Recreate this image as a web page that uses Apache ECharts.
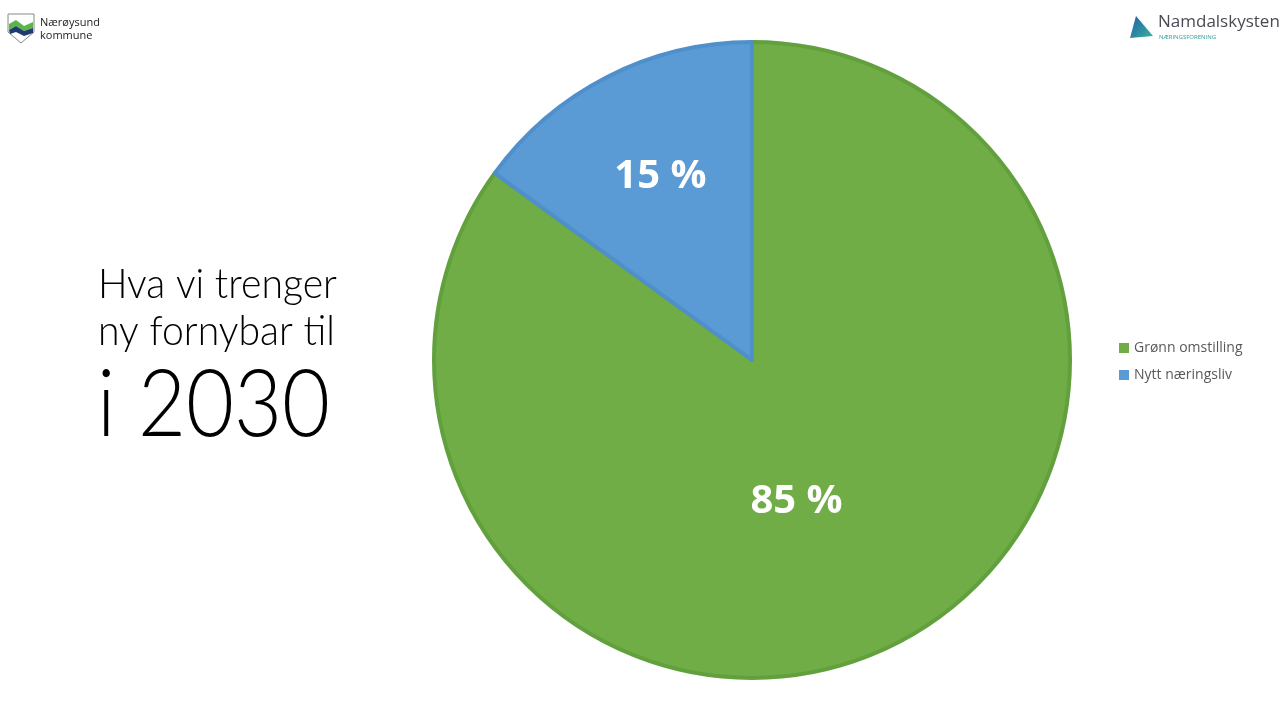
<!DOCTYPE html>
<html>
<head>
<meta charset="utf-8">
<script src="https://cdn.jsdelivr.net/npm/echarts@6/dist/echarts.min.js"></script>
<style>html,body{margin:0;padding:0;background:#fff;}#c{width:1280px;height:720px;}</style>
</head>
<body>
<div id="c"></div>
<script>
const categories = ['Grønn omstilling', 'Nytt næringsliv'];
const values = [85, 15];
const colors = ['#70AD47', '#5B9BD5'];
const borders = ['#62A03D', '#4E8FCC'];
const titleLines = ['Hva vi trenger', 'ny fornybar til'];
const titleYear = 'i 2030';

const chart = echarts.init(document.getElementById('c'));
const labelShift = [[-29, -3], [-18, -39]];
chart.setOption({
  animation: false,
  backgroundColor: '#ffffff',
  legend: {
    orient: 'vertical',
    left: 1114,
    top: 336,
    itemWidth: 10,
    itemHeight: 10,
    itemGap: 13,
    icon: 'rect',
    itemStyle: { borderWidth: 0 },
    textStyle: { color: '#595959', fontSize: 14, fontFamily: 'Open Sans' },
    data: categories
  },
  graphic: [
    { type: 'text', x: 98, y: 264, scaleX: 0.955, style: { text: titleLines[0], font: '300 41px Lato', fill: '#000' } },
    { type: 'text', x: 98, y: 311, scaleX: 0.955, style: { text: titleLines[1], font: '300 41px Lato', fill: '#000' } },
    { type: 'text', x: 97, y: 360, scaleX: 0.9, style: { text: titleYear, font: '300 92px Lato', fill: '#000' } },
    // top-left logo
    { type: 'polygon', shape: { points: [[8,14],[34,14],[34,32],[21,43],[8,32]] }, style: { fill: '#ffffff', stroke: '#888', lineWidth: 1 } },
    { type: 'polygon', shape: { points: [[9,24],[16,20],[24,26],[33,22],[33,28],[24,31],[16,26],[9,30]] }, style: { fill: '#5BB54A' } },
    { type: 'polygon', shape: { points: [[9,30],[16,26],[24,31],[33,28],[33,33],[24,36],[16,32],[10,34]] }, style: { fill: '#1E3C72' } },
    { type: 'text', left: 40, top: 16, style: { text: 'Nærøysund\nkommune', font: '11px Open Sans', fill: '#222', lineHeight: 13 } },
    // top-right logo
    { type: 'polygon', shape: { points: [[1136,16],[1153,36],[1130,38]] }, style: { fill: new echarts.graphic.LinearGradient(0,0,1,1,[{offset:0,color:'#1D5FA8'},{offset:1,color:'#3BB3A0'}]) } },
    { type: 'text', left: 1158, top: 14, style: { text: 'Namdalskysten', font: '17px Open Sans', fill: '#4a4a55' } },
    { type: 'text', left: 1159, top: 34, style: { text: 'NÆRINGSFORENING', font: '6px Open Sans', fill: '#2E9E9A' } }
  ],
  series: [{
    type: 'pie',
    center: [752, 360],
    radius: 318,
    startAngle: 90,
    clockwise: true,
    data: categories.map((n, i) => ({
      name: n,
      value: values[i],
      itemStyle: { color: colors[i], borderColor: borders[i], borderWidth: 4 }
    })),
    label: {
      show: true,
      position: 'inside',
      formatter: p => p.value + ' %',
      color: '#ffffff',
      fontSize: 40,
      fontWeight: 'bold',
      fontFamily: 'Open Sans'
    },
    labelLayout: p => ({ dx: labelShift[p.dataIndex][0], dy: labelShift[p.dataIndex][1] }),
    emphasis: { disabled: true }
  }]
});
</script>
</body>
</html>
